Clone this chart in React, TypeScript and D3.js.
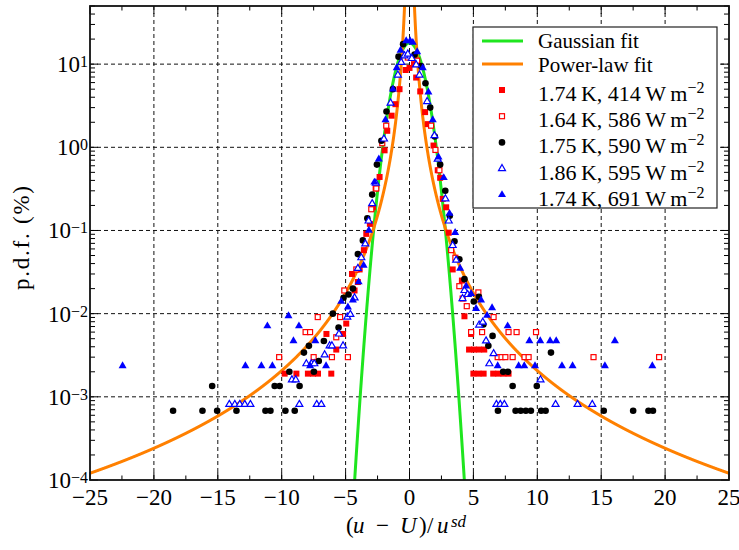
import React from "react";
import * as d3 from "d3";

// ---------- data ----------
const xTicks = [-25, -20, -15, -10, -5, 0, 5, 10, 15, 20, 25];
const xMinorTicks = [-22.5, -17.5, -12.5, -7.5, -2.5, 2.5, 7.5, 12.5, 17.5, 22.5];
const yDecades = [-4, -3, -2, -1, 0, 1];
const xDomain = [-25, 25];
const yDomain = [1e-4, 50];

// fit parameters
const gaussAmp = 18;
const gaussSigma = 0.872;
const powerC = 2.6;
const powerAlpha = 3.1;

// 1.74 K, 414 W m^-2 (red filled squares)
const s414: [number, number][] = [
  [-9.77, 0.0019], [-8.85, 0.0019], [-7.95, 0.0019], [-7.55, 0.0019], [-7.16, 0.0019],
  [-6.5, 0.0057], [-6.12, 0.0019], [-5.73, 0.0037], [-5.2, 0.0057], [-4.95, 0.0076],
  [-4.5, 0.03], [-4.3, 0.019], [-4.04, 0.024], [-3.9, 0.034], [-3.57, 0.058], [-3.38, 0.091],
  [-3.1, 0.12], [-2.86, 0.19], [-2.65, 0.32], [-2.34, 0.44], [-1.95, 0.92], [-1.74, 1.58],
  [-1.4, 2.4], [-1.1, 3.3], [-0.78, 5.0], [-0.3, 8.5], [0, 9.0], [0.35, 10], [0.52, 6.9],
  [0.84, 4.7], [1.22, 2.65], [1.43, 1.9], [1.88, 1.05], [2.21, 0.53], [2.4, 0.43], [2.6, 0.24],
  [2.87, 0.19], [3.07, 0.094], [3.38, 0.034], [4.1, 0.025], [4.3, 0.0093], [4.66, 0.0037],
  [4.82, 0.0057], [5.05, 0.0037], [5.45, 0.0037], [5.85, 0.0037], [5.0, 0.0019], [5.4, 0.0019],
  [5.8, 0.0019], [6.55, 0.0019], [6.95, 0.0019], [7.35, 0.0019], [7.75, 0.0019],
];

// 1.64 K, 586 W m^-2 (red open squares)
const s586: [number, number][] = [
  [-10.2, 0.003], [-8.13, 0.006], [-7.78, 0.006], [-7.5, 0.003], [-7.18, 0.0091], [-6.07, 0.003],
  [-5.73, 0.0052], [-5.43, 0.0091], [-5.1, 0.019], [-4.82, 0.003], [-4.16, 0.034], [-2.99, 0.18],
  [-2.6, 0.32], [-2.13, 1.12], [-1.82, 1.82], [-0.13, 12], [0.6, 11], [1.69, 1.82], [2.03, 0.93],
  [2.34, 0.53], [3.26, 0.058], [3.59, 0.047], [3.9, 0.0214], [4.16, 0.0152], [4.48, 0.0123],
  [4.82, 0.006], [5.39, 0.018], [5.68, 0.006], [6.58, 0.0091], [6.9, 0.003], [7.2, 0.003],
  [7.5, 0.003], [7.75, 0.006], [8.07, 0.003], [8.38, 0.006], [9.0, 0.003], [9.32, 0.003],
  [9.9, 0.006], [14.4, 0.003], [19.53, 0.003],
];

// 1.75 K, 590 W m^-2 (black circles)
const s590: [number, number][] = [
  [-18.5, 0.00068], [-16.2, 0.00068], [-15.44, 0.00135], [-15.05, 0.00068], [-13.54, 0.00068],
  [-11.27, 0.00068], [-10.88, 0.00068], [-10.55, 0.00135], [-10.16, 0.00135], [-9.71, 0.00068],
  [-9.4, 0.002], [-8.98, 0.00068], [-8.6, 0.00135], [-8.26, 0.0034], [-7.87, 0.0041],
  [-7.48, 0.002], [-7.1, 0.0027], [-6.7, 0.0047], [-6.0, 0.01], [-5.55, 0.0068], [-5.16, 0.0155],
  [-4.77, 0.017], [-4.43, 0.02], [-4.04, 0.052], [-3.65, 0.076], [-3.3, 0.14], [-2.92, 0.27],
  [-2.55, 0.62], [-2.2, 1.2], [-1.8, 2.7], [-1.3, 5.0], [-0.86, 12.3], [-0.5, 17.4], [0.4, 13],
  [0.91, 9.5], [1.25, 5.9], [1.62, 3.0], [1.98, 1.35], [2.4, 0.62], [2.8, 0.3], [3.15, 0.15],
  [3.52, 0.074], [3.9, 0.045], [4.3, 0.026], [5.03, 0.014], [5.43, 0.016], [5.78, 0.0074],
  [6.17, 0.0041], [6.5, 0.0054], [6.92, 0.00068], [7.33, 0.002], [7.7, 0.002], [8.07, 0.00135],
  [8.3, 0.00068], [8.7, 0.00068], [9.1, 0.00068], [9.5, 0.00068], [9.96, 0.00135], [10.3, 0.00068],
  [10.65, 0.00068], [11.07, 0.0034], [15.2, 0.00068], [17.5, 0.00068], [18.7, 0.00068], [19.05, 0.00068],
];

// 1.86 K, 595 W m^-2 (blue open triangles)
const s595: [number, number][] = [
  [-14.1, 0.00081], [-13.67, 0.00081], [-13.28, 0.00081], [-12.89, 0.00081], [-12.45, 0.00081],
  [-9.2, 0.0016], [-8.9, 0.0016], [-8.62, 0.00081], [-8.07, 0.0025], [-7.68, 0.0025], [-7.45, 0.0025],
  [-7.26, 0.00081], [-6.9, 0.00081], [-6.64, 0.0032], [-6.25, 0.0041], [-6.07, 0.0041],
  [-5.52, 0.0057], [-5.2, 0.0041], [-4.87, 0.0091], [-4.63, 0.0098], [-4.3, 0.0155], [-4.04, 0.035],
  [-3.77, 0.047], [-3.46, 0.069], [-3.2, 0.13], [-2.92, 0.21], [-2.63, 0.37], [-2.0, 1.26],
  [-1.48, 3.4], [-0.91, 7.4], [-0.65, 10.5], [-0.39, 12.6], [-0.13, 13.2], [0.18, 11.7],
  [0.52, 9.8], [0.78, 7.4], [1.38, 3.55], [1.95, 1.38], [2.21, 0.72], [2.81, 0.24], [3.07, 0.13],
  [3.38, 0.066], [3.65, 0.044], [4.15, 0.0152], [4.3, 0.019], [4.55, 0.017], [5.45, 0.0073],
  [5.73, 0.0079], [5.99, 0.0047], [6.25, 0.0025], [6.58, 0.0033], [6.8, 0.00081], [7.1, 0.00081],
  [7.42, 0.00081], [10.25, 0.0016], [11.43, 0.00081], [13.15, 0.00081], [14.3, 0.00081],
];

// 1.74 K, 691 W m^-2 (blue filled triangles)
const s691: [number, number][] = [
  [-22.45, 0.00235], [-12.84, 0.00235], [-11.59, 0.00235], [-11.12, 0.0071], [-10.73, 0.00235],
  [-9.47, 0.0094], [-9.08, 0.0047], [-8.65, 0.0071], [-7.78, 0.00235], [-7.37, 0.0047],
  [-6.53, 0.00235], [-5.34, 0.014], [-4.82, 0.012], [-4.43, 0.0145], [-3.98, 0.024], [-3.59, 0.038],
  [-3.18, 0.1], [-2.75, 0.38], [-2.4, 0.72], [-1.88, 2.14], [-1.3, 5.0], [-1.0, 9.0], [-0.7, 14.6],
  [-0.26, 19], [0.05, 19], [0.26, 18.2], [0.6, 14], [1.04, 9.0], [1.48, 4.6], [1.82, 2.14],
  [2.27, 0.76], [2.68, 0.43], [3.13, 0.16], [3.57, 0.094], [3.96, 0.035], [4.43, 0.0214],
  [4.82, 0.0174], [5.21, 0.0115], [5.6, 0.0145], [6.07, 0.0095], [6.46, 0.0117], [6.9, 0.00235],
  [7.68, 0.0071], [8.54, 0.00235], [8.98, 0.00235], [9.38, 0.0047], [9.82, 0.00235], [10.23, 0.0047],
  [11.0, 0.0047], [11.48, 0.0047], [11.93, 0.00235], [12.76, 0.00235], [15.29, 0.00235],
  [16.07, 0.0047], [19.0, 0.00235],
];

const fitLabels = ["Gaussian fit", "Power-law fit"];
const seriesLabels = [
  "1.74\u2009K, 414\u2009W\u2009m",
  "1.64\u2009K, 586\u2009W\u2009m",
  "1.75\u2009K, 590\u2009W\u2009m",
  "1.86\u2009K, 595\u2009W\u2009m",
  "1.74\u2009K, 691\u2009W\u2009m",
];

// ---------- styling ----------
const FONT = '"Liberation Serif", "Times New Roman", Times, serif';
const RED = "#ff0000";
const BLUE = "#0000ff";
const GREEN = "#1fe61f";
const ORANGE = "#ff8000";

type Kind = "sqFill" | "sqOpen" | "circle" | "triOpen" | "triFill";
const seriesData: { data: [number, number][]; kind: Kind }[] = [
  { data: s414, kind: "sqFill" },
  { data: s586, kind: "sqOpen" },
  { data: s590, kind: "circle" },
  { data: s595, kind: "triOpen" },
  { data: s691, kind: "triFill" },
];

function Marker({ kind, cx, cy }: { kind: Kind; cx: number; cy: number }) {
  if (kind === "sqFill") return <rect x={cx - 3} y={cy - 3} width={6} height={6} fill={RED} />;
  if (kind === "sqOpen")
    return <rect x={cx - 2.5} y={cy - 2.5} width={5} height={5} fill="white" stroke={RED} strokeWidth={1.2} />;
  if (kind === "circle") return <circle cx={cx} cy={cy} r={3.3} fill="black" />;
  const s = kind === "triFill" ? 8 : 7;
  const h = (s * Math.sqrt(3)) / 2;
  const p = `M${cx},${cy - (2 * h) / 3}L${cx + s / 2},${cy + h / 3}L${cx - s / 2},${cy + h / 3}Z`;
  if (kind === "triFill") return <path d={p} fill={BLUE} />;
  return <path d={p} fill="white" stroke={BLUE} strokeWidth={1.2} />;
}

const sup = (n: number) => (n < 0 ? "\u2212" + Math.abs(n) : String(n));

export default function App() {
  const L = 90, R = 729, T = 6, B = 480;
  const x = d3.scaleLinear().domain(xDomain).range([L, R]);
  const y = d3.scaleLog().domain(yDomain).range([B, T]);

  const line = d3
    .line<[number, number]>()
    .x((d) => x(d[0]))
    .y((d) => y(d[1]));

  const gaussPts: [number, number][] = d3
    .range(-4.8, 4.8001, 0.02)
    .map((v) => [v, gaussAmp * Math.exp(-(v * v) / (2 * gaussSigma * gaussSigma))]);
  const powLeft: [number, number][] = d3
    .range(-25, -0.3, 0.01)
    .map((v) => [v, powerC * Math.pow(Math.abs(v), -powerAlpha)]);
  const powRight: [number, number][] = d3
    .range(0.3, 25.0001, 0.01)
    .map((v) => [v, powerC * Math.pow(Math.abs(v), -powerAlpha)]);

  const yMinor: number[] = [];
  yDecades.forEach((d) => {
    for (let k = 2; k <= 9; k++) {
      const v = k * Math.pow(10, d);
      if (v <= yDomain[1]) yMinor.push(v);
    }
  });

  const gridColor = "#111";
  const legendRowsY = [90, 116.2, 142.4, 168.6, 194.8];

  return (
    <svg
      width={739}
      height={550}
      style={{ position: "absolute", left: 0, top: 0, display: "block", background: "white" }}
      fontFamily={FONT}
    >
      <defs>
        <clipPath id="plotclip">
          <rect x={L} y={T} width={R - L} height={B - T} />
        </clipPath>
      </defs>
      <rect x={0} y={0} width={739} height={550} fill="white" />

      {/* grid */}
      <g stroke={gridColor} strokeWidth={1} strokeDasharray="4,3">
        {xTicks.slice(1, -1).map((t) => (
          <line key={"gx" + t} x1={x(t)} x2={x(t)} y1={T} y2={B} />
        ))}
        {yDecades.slice(1).map((d) => (
          <line key={"gy" + d} x1={L} x2={R} y1={y(Math.pow(10, d))} y2={y(Math.pow(10, d))} />
        ))}
      </g>

      {/* ticks */}
      <g stroke="#000" strokeWidth={1}>
        {xTicks.map((t) => (
          <g key={"tx" + t}>
            <line x1={x(t)} x2={x(t)} y1={B} y2={B - 8} />
            <line x1={x(t)} x2={x(t)} y1={T} y2={T + 8} />
          </g>
        ))}
        {xMinorTicks.map((t) => (
          <g key={"mx" + t}>
            <line x1={x(t)} x2={x(t)} y1={B} y2={B - 4.5} />
            <line x1={x(t)} x2={x(t)} y1={T} y2={T + 4.5} />
          </g>
        ))}
        {yDecades.map((d) => (
          <g key={"ty" + d}>
            <line x1={L} x2={L + 8} y1={y(Math.pow(10, d))} y2={y(Math.pow(10, d))} />
            <line x1={R} x2={R - 8} y1={y(Math.pow(10, d))} y2={y(Math.pow(10, d))} />
          </g>
        ))}
        {yMinor.map((v, i) => (
          <g key={"my" + i}>
            <line x1={L} x2={L + 5} y1={y(v)} y2={y(v)} />
            <line x1={R} x2={R - 5} y1={y(v)} y2={y(v)} />
          </g>
        ))}
      </g>

      {/* fits */}
      <g clipPath="url(#plotclip)" fill="none">
        <path d={line(gaussPts) || ""} stroke={GREEN} strokeWidth={3} />
        <path d={line(powLeft) || ""} stroke={ORANGE} strokeWidth={3} />
        <path d={line(powRight) || ""} stroke={ORANGE} strokeWidth={3} />
      </g>

      {/* data */}
      <g clipPath="url(#plotclip)">
        {seriesData.map((s, si) => (
          <g key={"s" + si}>
            {s.data.map((d, i) => (
              <Marker key={i} kind={s.kind} cx={x(d[0])} cy={y(d[1])} />
            ))}
          </g>
        ))}
      </g>

      {/* frame */}
      <rect x={L} y={T} width={R - L} height={B - T} fill="none" stroke="#111" strokeWidth={1.8} />

      {/* x tick labels */}
      <g fontSize={23} textAnchor="middle" fill="#000">
        {xTicks.map((t) => (
          <text key={"lx" + t} x={x(t)} y={504.5}>
            {t < 0 ? "\u2212" + Math.abs(t) : String(t)}
          </text>
        ))}
      </g>

      {/* y tick labels */}
      <g fontSize={23} textAnchor="end" fill="#000">
        {yDecades.map((d) => (
          <text key={"ly" + d} x={88} y={y(Math.pow(10, d)) + 8}>
            10
            <tspan fontSize={16} dy={-5}>
              {sup(d)}
            </tspan>
          </text>
        ))}
      </g>

      {/* axis labels */}
      <text
        fontSize={23}
        textAnchor="middle"
        textLength={104}
        lengthAdjust="spacing"
        transform="translate(29,238) rotate(-90)"
      >
        p.d.f. (%)
      </text>
      <g fontSize={23}>
        <text x={346} y={533}>(</text>
        <text x={353} y={533} fontStyle="italic">u</text>
        <text x={376} y={533}>{"\u2212"}</text>
        <text x={400} y={533} fontStyle="italic">U</text>
        <text x={419} y={533}>)</text>
        <text x={427} y={533}>/</text>
        <text x={437} y={533} fontStyle="italic">u</text>
        <text x={451} y={527} fontSize={17} fontStyle="italic">sd</text>
      </g>

      {/* legend */}
      <rect x={473} y={27} width={244} height={181} fill="white" stroke="#222" strokeWidth={1.2} />
      <line x1={482} x2={523} y1={41} y2={41} stroke={GREEN} strokeWidth={3} />
      <line x1={482} x2={523} y1={64} y2={64} stroke={ORANGE} strokeWidth={3} />
      <text x={538} y={48} fontSize={21}>{fitLabels[0]}</text>
      <text x={538} y={71.5} fontSize={21}>{fitLabels[1]}</text>
      {seriesData.map((s, i) => (
        <g key={"lg" + i}>
          <Marker kind={s.kind} cx={502} cy={legendRowsY[i]} />
          <text x={538} y={legendRowsY[i] + 11} fontSize={22}>
            {seriesLabels[i]}
            <tspan fontSize={16} dy={-8}>{"\u22122"}</tspan>
          </text>
        </g>
      ))}
    </svg>
  );
}
